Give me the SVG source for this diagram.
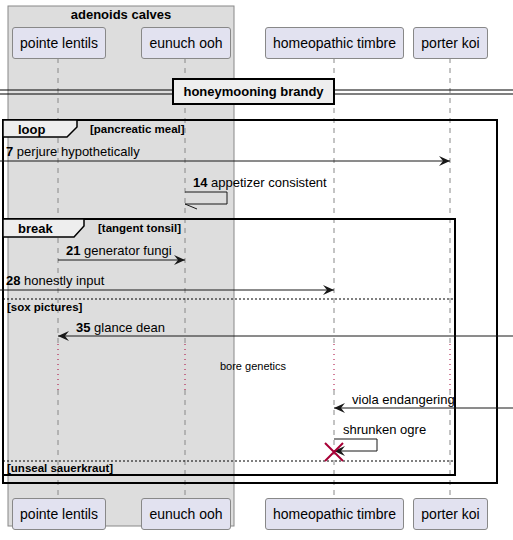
<svg xmlns="http://www.w3.org/2000/svg" width="513" height="540" viewBox="0 0 513 540">
<style>
text{font-family:"Liberation Sans",Arial,sans-serif;fill:#000}
.pt{font-size:14px;text-anchor:middle}
.pbox{fill:#E2E2F0;stroke:#888;stroke-width:1}
.life{stroke:#888;stroke-width:1;stroke-dasharray:5,5}
.delay{stroke:#A80036;stroke-width:1;stroke-dasharray:1,4}
.msg{stroke:#181818;stroke-width:1;fill:none}
.ml{font-size:13px}
.b{font-weight:bold}
.frame{fill:none;stroke:#000;stroke-width:2}
.tab{fill:#EEEEEE;stroke:#000;stroke-width:1.5}
.sep{stroke:#000;stroke-width:1;stroke-dasharray:2,2}
.gl{font-size:11.5px;font-weight:bold}
</style>
<defs>
<marker id="ah" viewBox="0 0 12 10" refX="11" refY="5" markerWidth="12" markerHeight="10" markerUnits="userSpaceOnUse" orient="auto">
<path d="M0,0 L11,5 L0,10 L4,5 Z" fill="#181818"/>
</marker>
</defs>
<g id="box-adenoids">
<rect x="8" y="6" width="226" height="520" fill="#DDDDDD" stroke="#888" stroke-width="1"/>
<text x="121" y="19" class="b" font-size="13" text-anchor="middle">adenoids calves</text>
</g>
<g id="lifelines">
<line class="life" x1="58" y1="58" x2="58" y2="344"/>
<line class="delay" x1="58" y1="344" x2="58" y2="390"/>
<line class="life" x1="58" y1="390" x2="58" y2="498"/>
<line class="life" x1="185" y1="58" x2="185" y2="344"/>
<line class="delay" x1="185" y1="344" x2="185" y2="390"/>
<line class="life" x1="185" y1="390" x2="185" y2="498"/>
<line class="life" x1="334" y1="58" x2="334" y2="344"/>
<line class="delay" x1="334" y1="344" x2="334" y2="390"/>
<line class="life" x1="334" y1="390" x2="334" y2="498"/>
<line class="life" x1="450" y1="58" x2="450" y2="344"/>
<line class="delay" x1="450" y1="344" x2="450" y2="390"/>
<line class="life" x1="450" y1="390" x2="450" y2="498"/>
</g>
<g id="p-pointe">
<rect class="pbox" x="12.5" y="27.5" width="93" height="31" rx="2.5"/>
<text class="pt" x="59" y="48">pointe lentils</text>
<rect class="pbox" x="12.5" y="498.5" width="93" height="31" rx="2.5"/>
<text class="pt" x="59" y="519">pointe lentils</text>
</g>
<g id="p-eunuch">
<rect class="pbox" x="141.5" y="27.5" width="89" height="31" rx="2.5"/>
<text class="pt" x="186" y="48">eunuch ooh</text>
<rect class="pbox" x="141.5" y="498.5" width="89" height="31" rx="2.5"/>
<text class="pt" x="186" y="519">eunuch ooh</text>
</g>
<g id="p-homeo">
<rect class="pbox" x="265.5" y="27.5" width="138" height="31" rx="2.5"/>
<text class="pt" x="334.5" y="48">homeopathic timbre</text>
<rect class="pbox" x="265.5" y="498.5" width="138" height="31" rx="2.5"/>
<text class="pt" x="334.5" y="519">homeopathic timbre</text>
</g>
<g id="p-porter">
<rect class="pbox" x="413.5" y="27.5" width="74" height="31" rx="2.5"/>
<text class="pt" x="450.5" y="48">porter koi</text>
<rect class="pbox" x="413.5" y="498.5" width="74" height="31" rx="2.5"/>
<text class="pt" x="450.5" y="519">porter koi</text>
</g>
<g id="divider">
<line x1="0" y1="90" x2="513" y2="90" stroke="#000" stroke-width="1"/>
<line x1="0" y1="94" x2="513" y2="94" stroke="#000" stroke-width="1"/>
<rect x="173" y="79" width="161" height="25" fill="#EEEEEE" stroke="#000" stroke-width="2"/>
<text x="253.5" y="96" class="b" font-size="13" text-anchor="middle">honeymooning brandy</text>
</g>
<g id="frame-loop">
<rect class="frame" x="3" y="120" width="494" height="363"/>
<path class="tab" d="M3,120 H77 V127 L67,137 H3 Z"/>
<text x="18" y="134" class="b" font-size="13">loop</text>
<text x="90" y="133" class="gl">[pancreatic meal]</text>
</g>
<g id="frame-break">
<rect class="frame" x="3" y="219" width="452" height="256"/>
<path class="tab" d="M3,219 H84 V226 L74,237 H3 Z"/>
<text x="18" y="233" class="b" font-size="13">break</text>
<text x="98" y="232" class="gl">[tangent tonsil]</text>
<line class="sep" x1="3" y1="299" x2="455" y2="299"/>
<text x="7" y="311" class="gl">[sox pictures]</text>
<line class="sep" x1="3" y1="461" x2="455" y2="461"/>
<text x="7" y="472" class="gl">[unseal sauerkraut]</text>
</g>
<g id="connectors">
<line class="msg" x1="0" y1="161" x2="450" y2="161" marker-end="url(#ah)"/>
<text x="6" y="156" class="ml"><tspan class="b">7</tspan> perjure hypothetically</text>
<path class="msg" d="M185,192 H227 V204 H185"/>
<line class="msg" x1="185" y1="204" x2="197" y2="209"/>
<text x="193" y="187" class="ml"><tspan class="b">14</tspan> appetizer consistent</text>
<line class="msg" x1="58" y1="260" x2="185" y2="260" marker-end="url(#ah)"/>
<text x="66" y="255" class="ml"><tspan class="b">21</tspan> generator fungi</text>
<line class="msg" x1="0" y1="290" x2="334" y2="290" marker-end="url(#ah)"/>
<text x="6" y="285" class="ml"><tspan class="b">28</tspan> honestly input</text>
<line class="msg" x1="513" y1="336" x2="58" y2="336" marker-end="url(#ah)"/>
<text x="76" y="332" class="ml"><tspan class="b">35</tspan> glance dean</text>
<text x="253" y="370" font-size="11" text-anchor="middle">bore genetics</text>
<line class="msg" x1="513" y1="408" x2="334" y2="408" marker-end="url(#ah)"/>
<text x="352" y="404" class="ml">viola endangering</text>
<path class="msg" d="M334,439 H377 V451"/>
<line class="msg" x1="377" y1="451" x2="334" y2="451" marker-end="url(#ah)"/>
<text x="343" y="434" class="ml">shrunken ogre</text>
<path d="M325,443 L343,461 M343,443 L325,461" stroke="#A80036" stroke-width="2"/>
</g>
</svg>
